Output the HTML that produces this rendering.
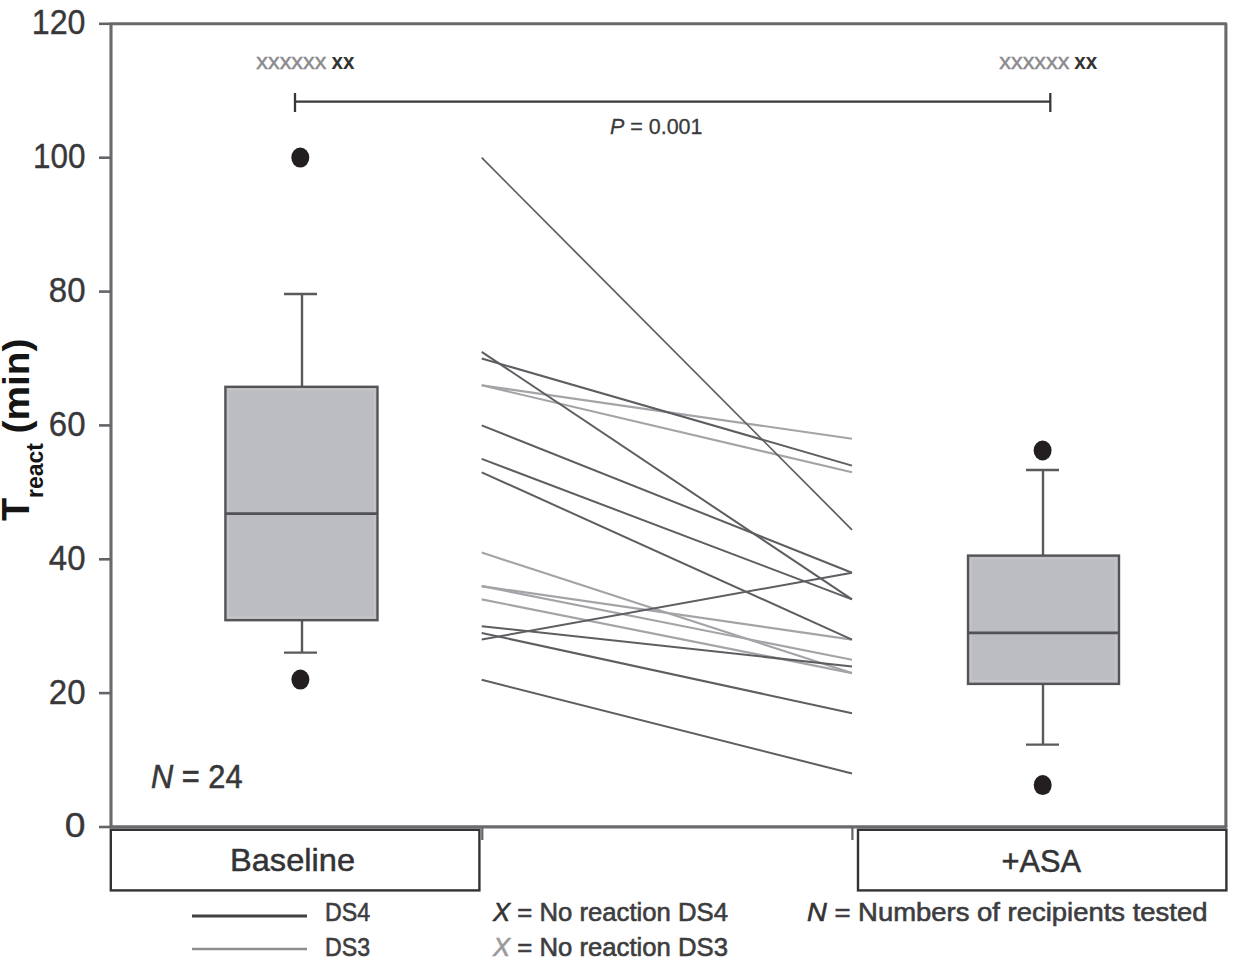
<!DOCTYPE html>
<html><head><meta charset="utf-8"><style>
html,body{margin:0;padding:0;background:#fff;}
svg{display:block;}
text{font-family:"Liberation Sans",sans-serif;}
.ax{stroke:#646468;stroke-width:2.6;fill:none;stroke-linejoin:round;}
.d{stroke:#5e5e62;stroke-width:2.0;}
.g{stroke:#a4a4a8;stroke-width:2.1;}
.tl{font-size:35px;fill:#38383a;stroke:#38383a;stroke-width:0.4px;text-anchor:end;}
.bx{fill:#bcbdc0;stroke:#545458;stroke-width:2.4;}
.wk{stroke:#5a5a5e;stroke-width:2.4;}
.lb{fill:none;stroke:#333335;stroke-width:2.4;}
.bk{stroke:#38383a;stroke-width:2.3;}
.cal{font-size:32px;fill:#333335;stroke:#333335;stroke-width:0.5px;}
.leg{font-size:25.5px;fill:#3d3d40;stroke:#3d3d40;stroke-width:0.6px;}
.yl{font-weight:bold;fill:#151515;}
</style></head><body>
<svg width="1235" height="959" viewBox="0 0 1235 959">
<rect x="0" y="0" width="1235" height="959" fill="#fff"/>
<!-- frame -->
<path d="M111 827 V23.8 H1225.9 V827" class="ax" style="stroke-width:3.1;stroke:#6a6a6e"/>
<line x1="109.7" y1="826.9" x2="1227.3" y2="826.9" class="ax" style="stroke-width:3.3;stroke:#6a6a6e"/>
<line x1="482.3" y1="827" x2="482.3" y2="840" class="ax" style="stroke-width:2.2"/>
<line x1="852.4" y1="827" x2="852.4" y2="840" class="ax" style="stroke-width:2.2"/>
<line x1="99" y1="827.0" x2="111" y2="827.0" class="ax"/><text x="85.5" y="837.4" class="tl" textLength="20.7" lengthAdjust="spacingAndGlyphs">0</text><line x1="99" y1="693.1" x2="111" y2="693.1" class="ax"/><text x="85.5" y="703.5" class="tl" textLength="36.7" lengthAdjust="spacingAndGlyphs">20</text><line x1="99" y1="559.3" x2="111" y2="559.3" class="ax"/><text x="85.5" y="569.7" class="tl" textLength="36.7" lengthAdjust="spacingAndGlyphs">40</text><line x1="99" y1="425.4" x2="111" y2="425.4" class="ax"/><text x="85.5" y="435.8" class="tl" textLength="36.7" lengthAdjust="spacingAndGlyphs">60</text><line x1="99" y1="291.6" x2="111" y2="291.6" class="ax"/><text x="85.5" y="302.0" class="tl" textLength="36.7" lengthAdjust="spacingAndGlyphs">80</text><line x1="99" y1="157.7" x2="111" y2="157.7" class="ax"/><text x="85.5" y="168.1" class="tl" textLength="52.5" lengthAdjust="spacingAndGlyphs">100</text><line x1="99" y1="23.8" x2="111" y2="23.8" class="ax"/><text x="85.5" y="34.2" class="tl" textLength="53.7" lengthAdjust="spacingAndGlyphs">120</text>
<!-- label boxes -->
<rect x="110.8" y="829.8" width="368.6" height="60.6" class="lb"/>
<rect x="858" y="829.8" width="368.4" height="60.6" class="lb"/>
<text x="230" y="871.3" class="cal" textLength="125" lengthAdjust="spacingAndGlyphs">Baseline</text>
<text x="1001.5" y="871.5" class="cal" textLength="79.5" lengthAdjust="spacingAndGlyphs">+ASA</text>
<!-- bracket -->
<line x1="295" y1="101.6" x2="1050.3" y2="101.6" class="bk"/>
<line x1="295" y1="93" x2="295" y2="112" class="bk"/>
<line x1="1050.3" y1="93" x2="1050.3" y2="112" class="bk"/>
<text x="610" y="133.9" style="font-size:21.5px;fill:#3a3a3c;stroke:#3a3a3c;stroke-width:0.3px" textLength="92.5" lengthAdjust="spacingAndGlyphs"><tspan font-style="italic">P</tspan> = 0.001</text>
<text x="256.3" y="69.3" style="font-size:22.5px;fill:#8a8a8d;stroke:#8a8a8d;stroke-width:0.45px" textLength="70" lengthAdjust="spacingAndGlyphs">xxxxxx</text>
<text x="331.5" y="69.3" style="font-size:22.5px;fill:#333;font-weight:bold" textLength="23" lengthAdjust="spacingAndGlyphs">xx</text>
<text x="999.3" y="69.3" style="font-size:22.5px;fill:#8a8a8d;stroke:#8a8a8d;stroke-width:0.45px" textLength="70" lengthAdjust="spacingAndGlyphs">xxxxxx</text>
<text x="1074.2" y="69.3" style="font-size:22.5px;fill:#333;font-weight:bold" textLength="23" lengthAdjust="spacingAndGlyphs">xx</text>
<text x="151" y="787.6" style="font-size:32.5px;fill:#38383a;stroke:#38383a;stroke-width:0.6px" textLength="91.5" lengthAdjust="spacingAndGlyphs"><tspan font-style="italic">N</tspan> = 24</text>
<!-- lines -->
<line x1="481.7" y1="385.3" x2="852.0" y2="438.8" class="g"/><line x1="481.7" y1="385.3" x2="852.0" y2="472.3" class="g"/><line x1="481.7" y1="552.6" x2="852.0" y2="673.1" class="g"/><line x1="481.7" y1="586.1" x2="852.0" y2="639.6" class="g"/><line x1="481.7" y1="586.1" x2="852.0" y2="659.7" class="g"/><line x1="481.7" y1="599.4" x2="852.0" y2="673.1" class="g"/><line x1="481.7" y1="157.7" x2="852.0" y2="529.8" class="d" style="stroke-width:1.7"/><line x1="481.7" y1="351.8" x2="852.0" y2="599.4" class="d"/><line x1="481.7" y1="358.5" x2="852.0" y2="465.6" class="d"/><line x1="481.7" y1="425.4" x2="852.0" y2="572.7" class="d"/><line x1="481.7" y1="458.9" x2="852.0" y2="599.4" class="d"/><line x1="481.7" y1="472.3" x2="852.0" y2="639.6" class="d"/><line x1="481.7" y1="626.2" x2="852.0" y2="666.4" class="d"/><line x1="481.7" y1="632.9" x2="852.0" y2="713.2" class="d"/><line x1="481.7" y1="639.6" x2="852.0" y2="572.7" class="d"/><line x1="481.7" y1="679.8" x2="852.0" y2="773.5" class="d"/>
<!-- baseline box -->
<line x1="302" y1="294" x2="302" y2="652.6" class="wk"/>
<line x1="284" y1="294" x2="317" y2="294" class="wk"/>
<line x1="284" y1="652.6" x2="317" y2="652.6" class="wk"/>
<rect x="225.4" y="386.8" width="152.1" height="233.4" class="bx"/>
<rect x="228.4" y="389.8" width="146.1" height="227.4" style="fill:none;stroke:#c6c7ca;stroke-width:1.3"/>
<line x1="225.4" y1="513.6" x2="377.5" y2="513.6" class="wk" style="stroke-width:2.8;stroke:#525256"/>
<ellipse cx="300.3" cy="157.6" rx="9" ry="10" fill="#231f20"/>
<ellipse cx="300.4" cy="679.6" rx="9" ry="10" fill="#231f20"/>
<!-- asa box -->
<line x1="1043" y1="470" x2="1043" y2="744.6" class="wk"/>
<line x1="1026" y1="470" x2="1059" y2="470" class="wk"/>
<line x1="1026" y1="744.6" x2="1059" y2="744.6" class="wk"/>
<rect x="968" y="555.6" width="151" height="128.3" class="bx"/>
<rect x="971" y="558.6" width="145" height="122.3" style="fill:none;stroke:#c6c7ca;stroke-width:1.3"/>
<line x1="968" y1="632.9" x2="1119" y2="632.9" class="wk" style="stroke-width:2.8;stroke:#525256"/>
<ellipse cx="1042.6" cy="450.5" rx="9" ry="10" fill="#231f20"/>
<ellipse cx="1042.7" cy="785.1" rx="9" ry="10" fill="#231f20"/>
<!-- y label -->
<g transform="translate(29,521) rotate(-90)"><text x="0" y="0" class="yl" style="font-size:38px">T</text></g>
<g transform="translate(42.8,498) rotate(-90)"><text x="0" y="0" class="yl" style="font-size:23px" textLength="55" lengthAdjust="spacingAndGlyphs">react</text></g>
<g transform="translate(28.7,433.5) rotate(-90)"><text x="0" y="0" class="yl" style="font-size:37.5px" textLength="95" lengthAdjust="spacingAndGlyphs">(min)</text></g>
<!-- legend -->
<line x1="192" y1="916" x2="307" y2="916" style="stroke:#404043;stroke-width:3"/>
<line x1="192" y1="949" x2="307" y2="949" style="stroke:#8e8e92;stroke-width:2.6"/>
<text x="325" y="921" class="leg" textLength="45" lengthAdjust="spacingAndGlyphs">DS4</text>
<text x="325" y="956" class="leg" textLength="45" lengthAdjust="spacingAndGlyphs">DS3</text>
<text x="493" y="921" class="leg" textLength="235" lengthAdjust="spacingAndGlyphs"><tspan font-style="italic" style="fill:#333;stroke:#333">X</tspan> = No reaction DS4</text>
<text x="493" y="956" class="leg" textLength="235" lengthAdjust="spacingAndGlyphs"><tspan font-style="italic" style="fill:#9a9a9c;stroke:#9a9a9c">X</tspan> = No reaction DS3</text>
<text x="807" y="920.6" class="leg" textLength="400.5" lengthAdjust="spacingAndGlyphs"><tspan font-style="italic" style="fill:#333;stroke:#333">N</tspan> = Numbers of recipients tested</text>
</svg>
</body></html>
